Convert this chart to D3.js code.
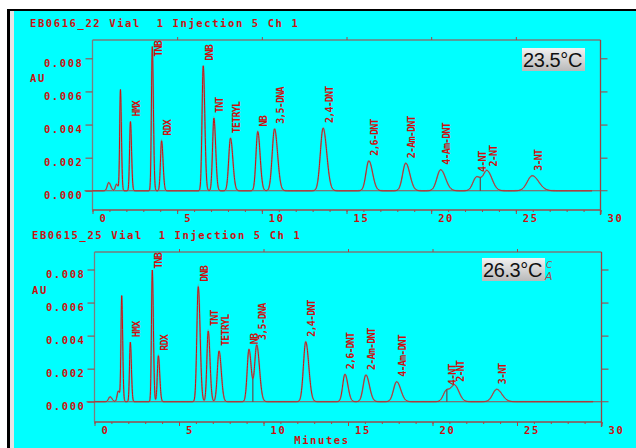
<!DOCTYPE html>
<html>
<head>
<meta charset="utf-8">
<script src="https://cdn.jsdelivr.net/npm/d3@7"></script>
<style>
  html, body { margin: 0; padding: 0; background: #fff; }
  svg { display: block; }
</style>
</head>
<body>
<svg id="chart" width="636" height="448"></svg>
<script>
// ---- Run EB0616_22 (23.5 °C) ----
const run1Title = "EB0616_22 Vial  1 Injection 5 Ch 1";
const run1Temp = "23.5°C";
const run1Names   = ["", "", "", "HMX", "TNB", "RDX", "DNB", "TNT", "TETRYL", "NB", "3,5-DNA", "2,4-DNT", "2,6-DNT", "2-Am-DNT", "4-Am-DNT", "4-NT", "2-NT", "3-NT"];
const run1Times   = [0.96, 1.42, 1.65, 2.24, 3.53, 4.08, 6.54, 7.17, 8.15, 9.76, 10.75, 13.62, 16.32, 18.50, 20.56, 22.68, 23.31, 25.97];
const run1Heights = [0.0005, 0.0004, 0.0061, 0.00418, 0.00871, 0.00302, 0.00755, 0.00439, 0.00318, 0.00358, 0.00374, 0.00379, 0.00181, 0.00167, 0.00127, 0.00083, 0.00117, 0.00091];
const run1Widths  = [0.10, 0.08, 0.05, 0.057, 0.057, 0.074, 0.08, 0.09, 0.12, 0.12, 0.155, 0.186, 0.19, 0.21, 0.25, 0.24, 0.25, 0.33];
const run1Splits  = [["4-NT", "2-NT"]];

// ---- Run EB0615_25 (26.3 °C) ----
const run2Title = "EB0615_25 Vial  1 Injection 5 Ch 1";
const run2Temp = "26.3°C";
const run2Names   = ["", "", "", "HMX", "TNB", "RDX", "DNB", "TNT", "TETRYL", "NB", "3,5-DNA", "2,4-DNT", "2,6-DNT", "2-Am-DNT", "4-Am-DNT", "4-NT", "2-NT", "3-NT"];
const run2Times   = [0.92, 1.41, 1.61, 2.12, 3.42, 3.78, 6.14, 6.73, 7.37, 9.14, 9.60, 12.50, 14.82, 16.06, 17.88, 20.84, 21.33, 23.80];
const run2Heights = [0.0003, 0.00065, 0.00636, 0.0036, 0.00797, 0.00278, 0.00696, 0.00428, 0.00307, 0.00317, 0.00343, 0.00363, 0.00166, 0.00162, 0.00121, 0.0007, 0.00091, 0.00075];
const run2Widths  = [0.10, 0.08, 0.05, 0.055, 0.055, 0.07, 0.095, 0.09, 0.115, 0.12, 0.14, 0.155, 0.15, 0.18, 0.21, 0.22, 0.22, 0.27];
const run2Splits  = [["NB", "3,5-DNA"], ["4-NT", "2-NT"]];

// ---- Shared axis settings ----
const timeTicks = [0, 5, 10, 15, 20, 25, 30];
const auTicks = [0, 0.002, 0.004, 0.006, 0.008];
const xLabel = "Minutes";
const yLabel = "AU";

const RED = "#cc1010";
const AXIS_GRAY = "#7d7d7d";
const MONO = "'DejaVu Sans Mono', monospace";

const svg = d3.select("#chart");

// page frame: white margin, black edge, cyan plot sheet
svg.append("rect").attr("x", 0).attr("y", 0).attr("width", 636).attr("height", 448).attr("fill", "#fff");
svg.append("rect").attr("x", 7).attr("y", 9).attr("width", 629).attr("height", 439).attr("fill", "#000");
svg.append("rect").attr("x", 10).attr("y", 11).attr("width", 626).attr("height", 437).attr("fill", "#e4e4e4");
svg.append("rect").attr("x", 14).attr("y", 11).attr("width", 622).attr("height", 437).attr("fill", "#00ffff");

// printer-style text
function mono(sel, size) {
  return sel.attr("font-family", MONO).attr("font-size", size || 10.5).attr("letter-spacing", 1.6)
    .attr("font-weight", "bold").attr("fill", RED);
}

// asymmetric (tailing) peak model sampled along the time axis
function trace(times, heights, widths) {
  const pts = [];
  for (let i = 0; i <= 2950; i++) {
    const t = i / 100;
    let v = 0;
    for (let k = 0; k < times.length; k++) {
      const s = t < times[k] ? widths[k] * 0.88 : widths[k] * 1.15;
      const z = (t - times[k]) / s;
      v += heights[k] * Math.exp(-0.5 * z * z);
    }
    pts.push({ t, v });
  }
  return pts;
}

function drawPanel(cfg) {
  const { title, temp, names, times, heights, widths, splits, L } = cfg;
  const g = svg.append("g");
  const x = d3.scaleLinear().domain([0, 30]).range([L.x0, L.x1]);
  const y = d3.scaleLinear().domain([0, 0.008]).range([L.y0, L.y8]);

  // title line
  mono(g.append("text").attr("x", L.titleX).attr("y", L.titleY))
    .style("white-space", "pre").text(title);

  // frame: top, left, right, bottom
  g.append("line").attr("x1", L.x0).attr("x2", L.x1).attr("y1", L.top).attr("y2", L.top)
    .attr("stroke", "#b03a3a").attr("stroke-width", 1.2);
  g.append("line").attr("x1", L.x0).attr("x2", L.x0).attr("y1", L.top).attr("y2", L.bottom)
    .attr("stroke", AXIS_GRAY).attr("stroke-width", 1.3);
  g.append("line").attr("x1", L.x1).attr("x2", L.x1).attr("y1", L.top).attr("y2", L.bottom + 5)
    .attr("stroke", "#9a4444").attr("stroke-width", 1.3);
  g.append("line").attr("x1", L.x0).attr("x2", L.x1).attr("y1", L.bottom).attr("y2", L.bottom)
    .attr("stroke", "#9a4a4a").attr("stroke-width", 1.3);

  // zero baseline running past both axes
  g.append("line").attr("x1", L.x0 - 8).attr("x2", L.x1 + 7).attr("y1", y(0)).attr("y2", y(0))
    .attr("stroke", "#a04848").attr("stroke-width", 1.1);

  // left AU axis
  const left = g.append("g").attr("transform", `translate(${L.x0},0)`)
    .call(d3.axisLeft(y).tickValues(auTicks).tickSize(7).tickPadding(3).tickFormat(d3.format(".3f")));
  left.select(".domain").remove();
  left.selectAll("line").attr("stroke", "#a04848").attr("stroke-width", 1.1);
  mono(left.selectAll("text")).attr("dy", "0.75em").attr("x", -9);

  // right ticks, no labels
  const right = g.append("g").attr("transform", `translate(${L.x1},0)`)
    .call(d3.axisRight(y).tickValues(auTicks.slice(1)).tickSize(7).tickFormat(""));
  right.select(".domain").remove();
  right.selectAll("line").attr("stroke", "#a04848").attr("stroke-width", 1.1);

  // top ticks
  const topAx = g.append("g").attr("transform", `translate(0,${L.top})`)
    .call(d3.axisTop(x).tickValues(timeTicks.slice(1, -1)).tickSize(3).tickFormat(""));
  topAx.select(".domain").remove();
  topAx.selectAll("line").attr("stroke", "#a04848");

  // bottom minute axis: minor ticks every minute, majors every five
  const minor = g.append("g").attr("transform", `translate(0,${L.bottom})`)
    .call(d3.axisBottom(x).tickValues(d3.range(0, 31)).tickSize(2).tickFormat(""));
  minor.select(".domain").remove();
  minor.selectAll("line").attr("stroke", "#a04848");
  const major = g.append("g").attr("transform", `translate(0,${L.bottom})`)
    .call(d3.axisBottom(x).tickValues(timeTicks).tickSize(4).tickPadding(4));
  major.select(".domain").remove();
  major.selectAll("line").attr("stroke", "#a04848");
  mono(major.selectAll("text"))
    .attr("text-anchor", "start").attr("x", 6.5).attr("y", 5).attr("dy", "0.71em");

  // AU caption
  mono(g.append("text").attr("x", L.auX).attr("y", L.auY)).text(yLabel);

  // chromatogram
  const data = trace(times, heights, widths);
  const line = d3.line().x(d => x(d.t)).y(d => y(d.v));
  g.append("path").datum(data).attr("d", line).attr("fill", "none")
    .attr("stroke", "#8a8a8a").attr("stroke-width", 1.8).attr("opacity", 0.55);
  g.append("path").datum(data).attr("d", line).attr("fill", "none")
    .attr("stroke", RED).attr("stroke-width", 1);

  // drop lines at valleys between co-eluting peaks
  splits.forEach(([a, b]) => {
    const ta = times[names.indexOf(a)], tb = times[names.indexOf(b)];
    const seg = data.filter(d => d.t > ta && d.t < tb);
    const low = seg.reduce((m, d) => d.v < m.v ? d : m, seg[0]);
    g.append("line").attr("x1", x(low.t)).attr("x2", x(low.t))
      .attr("y1", y(0)).attr("y2", y(low.v))
      .attr("stroke", "#6b3a3a").attr("stroke-width", 1.1);
  });

  // rotated peak names above each apex
  names.forEach((n, k) => {
    if (!n) return;
    const t = mono(g.append("text"), 10).attr("letter-spacing", -0.8)
      .attr("dominant-baseline", "central").text(n);
    const len = t.node().getComputedTextLength();
    const apex = y(heights[k]);
    const yStart = Math.max(apex - 5, L.top + len + 1);
    t.attr("transform", `translate(${x(times[k]) + 6},${yStart}) rotate(-90)`);
  });

  // temperature tag
  const grad = "grad" + L.top;
  const defs = svg.append("defs");
  const lg = defs.append("linearGradient").attr("id", grad).attr("x1", 0).attr("y1", 0).attr("x2", 0).attr("y2", 1);
  lg.append("stop").attr("offset", "0%").attr("stop-color", "#f2f2f2");
  lg.append("stop").attr("offset", "100%").attr("stop-color", "#b9b9b9");
  g.append("rect").attr("x", L.tagX).attr("y", L.tagY).attr("width", 63).attr("height", 23)
    .attr("fill", `url(#${grad})`);
  g.append("text").attr("x", L.tagX + 1).attr("y", L.tagY + 19)
    .attr("font-family", "'Liberation Sans', Arial, sans-serif").attr("font-size", 20)
    .attr("letter-spacing", -0.4).attr("fill", "#111").text(temp);
  return g;
}

drawPanel({
  title: run1Title, temp: run1Temp, names: run1Names, times: run1Times,
  heights: run1Heights, widths: run1Widths, splits: run1Splits,
  L: { x0: 92.5, x1: 600.5, y0: 190.8, y8: 58.3, top: 40, bottom: 210,
       titleX: 30, titleY: 27, auX: 30, auY: 82, tagX: 522, tagY: 48 }
});

const p2 = drawPanel({
  title: run2Title, temp: run2Temp, names: run2Names, times: run2Times,
  heights: run2Heights, widths: run2Widths, splits: run2Splits,
  L: { x0: 94.5, x1: 601.5, y0: 401.7, y8: 269.5, top: 252, bottom: 422,
       titleX: 32, titleY: 239, auX: 32, auY: 294, tagX: 482, tagY: 258 }
});

// hand-written mark beside the second tag
p2.append("text").attr("x", 546).attr("y", 268).attr("font-family", "'DejaVu Sans', sans-serif")
  .attr("font-size", 9).attr("font-style", "italic").attr("fill", "#a05050").text("C");
p2.append("text").attr("x", 545).attr("y", 280).attr("font-family", "'DejaVu Sans', sans-serif")
  .attr("font-size", 11).attr("font-style", "italic").attr("fill", "#a05050").text("A");

// time axis caption
mono(svg.append("text").attr("x", 322).attr("y", 444).attr("text-anchor", "middle")).text(xLabel);
</script>
</body>
</html>
